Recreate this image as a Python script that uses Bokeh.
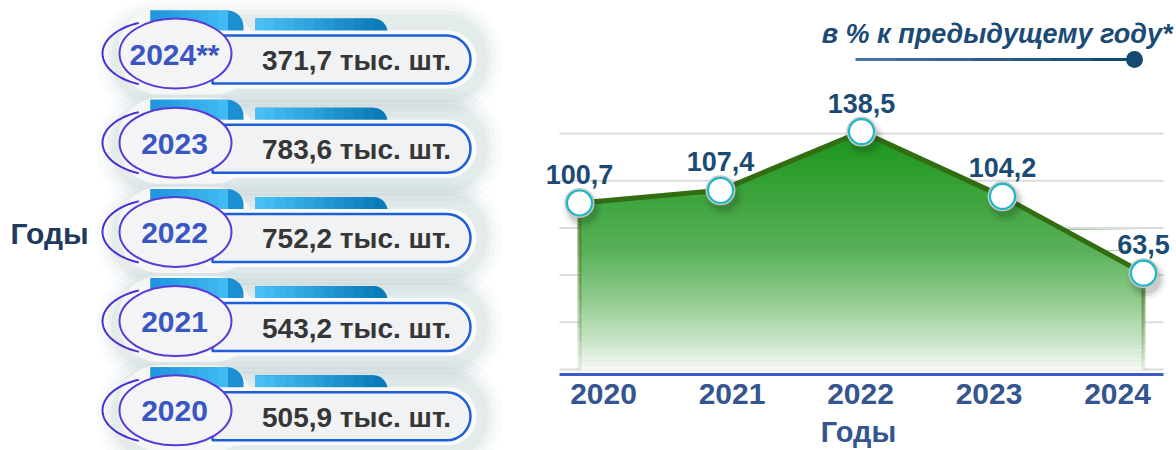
import numpy as np
from bokeh.plotting import figure
from bokeh.models import (Range1d, LinearAxis, FixedTicker, Label, LabelSet,
                          ColumnDataSource)
from bokeh.embed import file_html
from bokeh.resources import INLINE
from bokeh.core.properties import value
from bokeh.core.templates import get_env

# ---------------- data ----------------
year_labels = ["2024**", "2023", "2022", "2021", "2020"]
counts = [371.7, 783.6, 752.2, 543.2, 505.9]          # тыс. шт.
chart_years = ["2020", "2021", "2022", "2023", "2024"]
pct = [100.7, 107.4, 138.5, 104.2, 63.5]               # в % к предыдущему году

count_text = [f"{v:.1f}".replace(".", ",") + " тыс. шт." for v in counts]
pct_text = [f"{v:.1f}".replace(".", ",") for v in pct]

SANS = "Liberation Sans"


def mix(stops, t):
    ts = [s[0] for s in stops]
    cols = np.array([s[1] for s in stops], float)
    c = [np.interp(t, ts, cols[:, k]) for k in range(3)]
    return "#%02x%02x%02x" % tuple(int(round(v)) for v in c)


# ---------------- left panel: pills ----------------
LW = 540
L = figure(width=LW, height=450, x_range=Range1d(0, LW), y_range=Range1d(450, 0),
           toolbar_location=None, output_backend="svg", min_border=0,
           x_axis_location=None, y_axis_location=None)
L.grid.visible = False
L.outline_line_color = None

n = len(year_labels)
yc = 53 + 89.2 * np.arange(n)

# soft shadows
for pad, a in [(16, 0.035), (10, 0.045), (5, 0.06), (1, 0.07)]:
    L.quad(left=112 - pad, right=486 + pad, top=yc - 38 - pad, bottom=yc + 48 + pad,
           border_radius=40 + pad, fill_color="#6f9a9e", fill_alpha=a, line_color=None)

# white blob behind ellipse
L.quad(left=118, right=254, top=yc - 45, bottom=yc + 41, border_radius=40,
       fill_color="#f5f6f6", line_color=None)

# left purple arc
th = np.radians(np.linspace(112, 248, 40))
L.multi_line(xs=[list(160 + 58 * np.cos(th)) for _ in yc],
             ys=[list(c + 33 * np.sin(th)) for c in yc],
             line_color="#4a30d0", line_width=2)

# tab 1
L.quad(left=150, right=243, top=yc - 43, bottom=yc - 5, border_radius=(0, 16, 0, 0),
       fill_color="#1b8fd2", line_color=None)
e1 = np.linspace(150, 227, 9)
for k in range(8):
    L.quad(left=e1[k], right=e1[k + 1] + 0.6, top=yc - 43, bottom=yc - 5,
           fill_color=mix([(0, (32, 150, 222)), (1, (64, 186, 242))], k / 7), line_color=None)

# tab 2
L.quad(left=255, right=387, top=yc - 35, bottom=yc - 5, border_radius=(0, 14, 0, 0),
       fill_color="#0a7cba", line_color=None)
e2 = np.linspace(255, 373, 13)
for k in range(12):
    L.quad(left=e2[k], right=e2[k + 1] + 0.6, top=yc - 35, bottom=yc - 5,
           fill_color=mix([(0, (72, 192, 245)), (1, (14, 128, 190))], k / 11), line_color=None)

# value pill
L.quad(left=206, right=476, top=yc - 23, bottom=yc + 35, border_radius=(0, 29, 29, 0),
       fill_color="#fbfbfb", line_color=None)
L.quad(left=212, right=470, top=yc - 18, bottom=yc + 30, border_radius=(0, 24, 24, 0),
       fill_color="#f1f2f3", line_color="#1d5fd8", line_width=2.5)

# year ellipse
L.ellipse(x=175, y=yc, width=112, height=70, fill_color="#f3f4f6",
          line_color="#5b3bd6", line_width=2)

L.text(x=174, y=yc + 1, text=year_labels, text_font=value(SANS), text_font_size="30px",
       text_font_style="bold", text_color="#3a56c2", text_align="center",
       text_baseline="middle")
L.text(x=356, y=yc + 7, text=count_text, text_font=value(SANS), text_font_size="28px",
       text_font_style="bold", text_color="#363636", text_align="center",
       text_baseline="middle")
L.text(x=[10], y=[233], text=["Годы"], text_font=value(SANS), text_font_size="30px",
       text_font_style="bold", text_color="#1e3a5c", text_align="left",
       text_baseline="middle")

# ---------------- right panel: area chart ----------------
PXX = 141.0     # px per year step (points)
PXL = 128.5     # px per year step (axis labels)
PXY = 1.888     # px per percent
BASE = 12.5     # value at the baseline grid line
xs_d = np.arange(len(pct), dtype=float)
ys_d = np.array(pct, float)
last = len(pct) - 1

R = figure(width=1176 - LW, height=450,
           x_range=Range1d(-(579 - LW) / PXX, last + 33 / PXX),
           y_range=Range1d(BASE - 5 / PXY, BASE + 369 / PXY),
           toolbar_location=None, output_backend="svg",
           x_axis_location=None, y_axis_location=None,
           min_border_left=0, min_border_right=0, min_border_top=0, min_border_bottom=76)
R.grid.visible = False
R.outline_line_color = None
R.extra_x_ranges = {"lbl": Range1d(-(603 - LW) / PXL, last + 59 / PXL),
                    "px": Range1d(LW, 1176)}
R.extra_y_ranges = {"px": Range1d(374, 0)}

# horizontal grid lines
gticks = [BASE + 25 * k for k in range(6)]
R.segment(x0=[559] * len(gticks), x1=[1163] * len(gticks), y0=gticks, y1=gticks,
          x_range_name="px", line_color="#dcdcdc", line_width=2)

ax = LinearAxis(x_range_name="lbl", ticker=FixedTicker(ticks=list(range(len(chart_years)))),
                major_label_overrides={i: y for i, y in enumerate(chart_years)},
                bounds=(-44 / PXL, last + 46 / PXL),
                axis_line_color="#3a5cc4", axis_line_width=3,
                major_tick_line_color=None, minor_tick_line_color=None,
                major_tick_out=0, major_tick_in=0, minor_tick_out=0,
                major_label_standoff=9,
                major_label_text_font=SANS, major_label_text_font_size="30px",
                major_label_text_font_style="bold", major_label_text_color="#34558f",
                axis_label="Годы", axis_label_standoff=9,
                axis_label_text_font=SANS, axis_label_text_font_size="29px",
                axis_label_text_font_style="bold", axis_label_text_color="#34558f")
R.add_layout(ax, "below")

# gradient area made of horizontal bands
top = ys_d.max()
levels = np.linspace(BASE, top, 57)
stops = [(0, (26, 148, 26)), (0.49, (88, 176, 88)), (0.70, (143, 203, 141)),
         (0.875, (200, 228, 198)), (1.0, (246, 249, 245))]
for k in range(len(levels) - 1):
    lo, hi = levels[k], levels[k + 1]
    nodes = list(xs_d)
    for j in range(len(xs_d) - 1):
        y0, y1 = ys_d[j], ys_d[j + 1]
        for lev in (lo, hi):
            if (y0 - lev) * (y1 - lev) < 0:
                nodes.append(xs_d[j] + (lev - y0) * (xs_d[j + 1] - xs_d[j]) / (y1 - y0))
    nodes = np.unique(nodes)
    f = np.interp(nodes, xs_d, ys_d)
    y2 = np.clip(f, lo, hi)
    y1b = np.where(f > lo, lo - 0.4, y2)
    t = (top - 0.5 * (lo + hi)) / (top - BASE)
    R.varea(x=nodes, y1=y1b, y2=y2, fill_color=mix(stops, t), fill_alpha=1)

# fading side edges
for xe, ye in [(xs_d[0], ys_d[0]), (xs_d[-1], ys_d[-1])]:
    seg = np.linspace(ye, BASE, 13)
    for k in range(12):
        R.segment(x0=[xe], y0=[seg[k]], x1=[xe], y1=[seg[k + 1]], line_color="#4f7f2c",
                  line_alpha=0.85 * (1 - k / 12) + 0.05, line_width=4)

R.line(xs_d, ys_d, line_color="#336d12", line_width=5, line_join="round")

# point shadows and markers
for s, a in [(40, 0.05), (34, 0.08), (29, 0.12)]:
    R.scatter(xs_d + 3 / PXX, ys_d - 6 / PXY, size=s, fill_color="#1e2e1e", fill_alpha=a,
              line_color=None)
R.scatter(xs_d, ys_d, size=30, fill_color="#c8c8c8", line_color=None)
R.scatter(xs_d, ys_d, size=25, fill_color="white", line_color="#1fb7c6", line_width=2.2)

src = ColumnDataSource(dict(x=xs_d, y=ys_d, t=pct_text))
R.add_layout(LabelSet(x="x", y="y", text="t", source=src, y_offset=19,
                      text_align="center", text_baseline="alphabetic",
                      text_font=value(SANS), text_font_size="27px",
                      text_font_style="bold", text_color="#1b4b75"))

# legend note
R.add_layout(Label(x=1172, y=33, x_range_name="px", y_range_name="px",
                   text="в % к предыдущему году*", text_align="right",
                   text_baseline="middle", text_font=SANS, text_font_size="27px",
                   text_font_style="bold italic", text_color="#1b4b75"))
lx = np.linspace(855, 1132, 8)
for k in range(7):
    R.line(x=[lx[k], lx[k + 1] + 1], y=[59, 59], x_range_name="px", y_range_name="px",
           line_color=mix([(0, (70, 115, 160)), (1, (18, 74, 114))], k / 6), line_width=3)
R.scatter(x=[1134], y=[59], x_range_name="px", y_range_name="px", size=17,
          fill_color="#124a72", line_color=None)

# two independent roots placed side by side (no frame alignment between them)
TEMPLATE = get_env().from_string(
    '{% extends "file.html" %}{% block postamble %}<style>body{display:flex;'
    'flex-direction:row;align-items:flex-start;}</style>{% endblock %}')
open("out.html", "w").write(file_html([L, R], INLINE, template=TEMPLATE))
